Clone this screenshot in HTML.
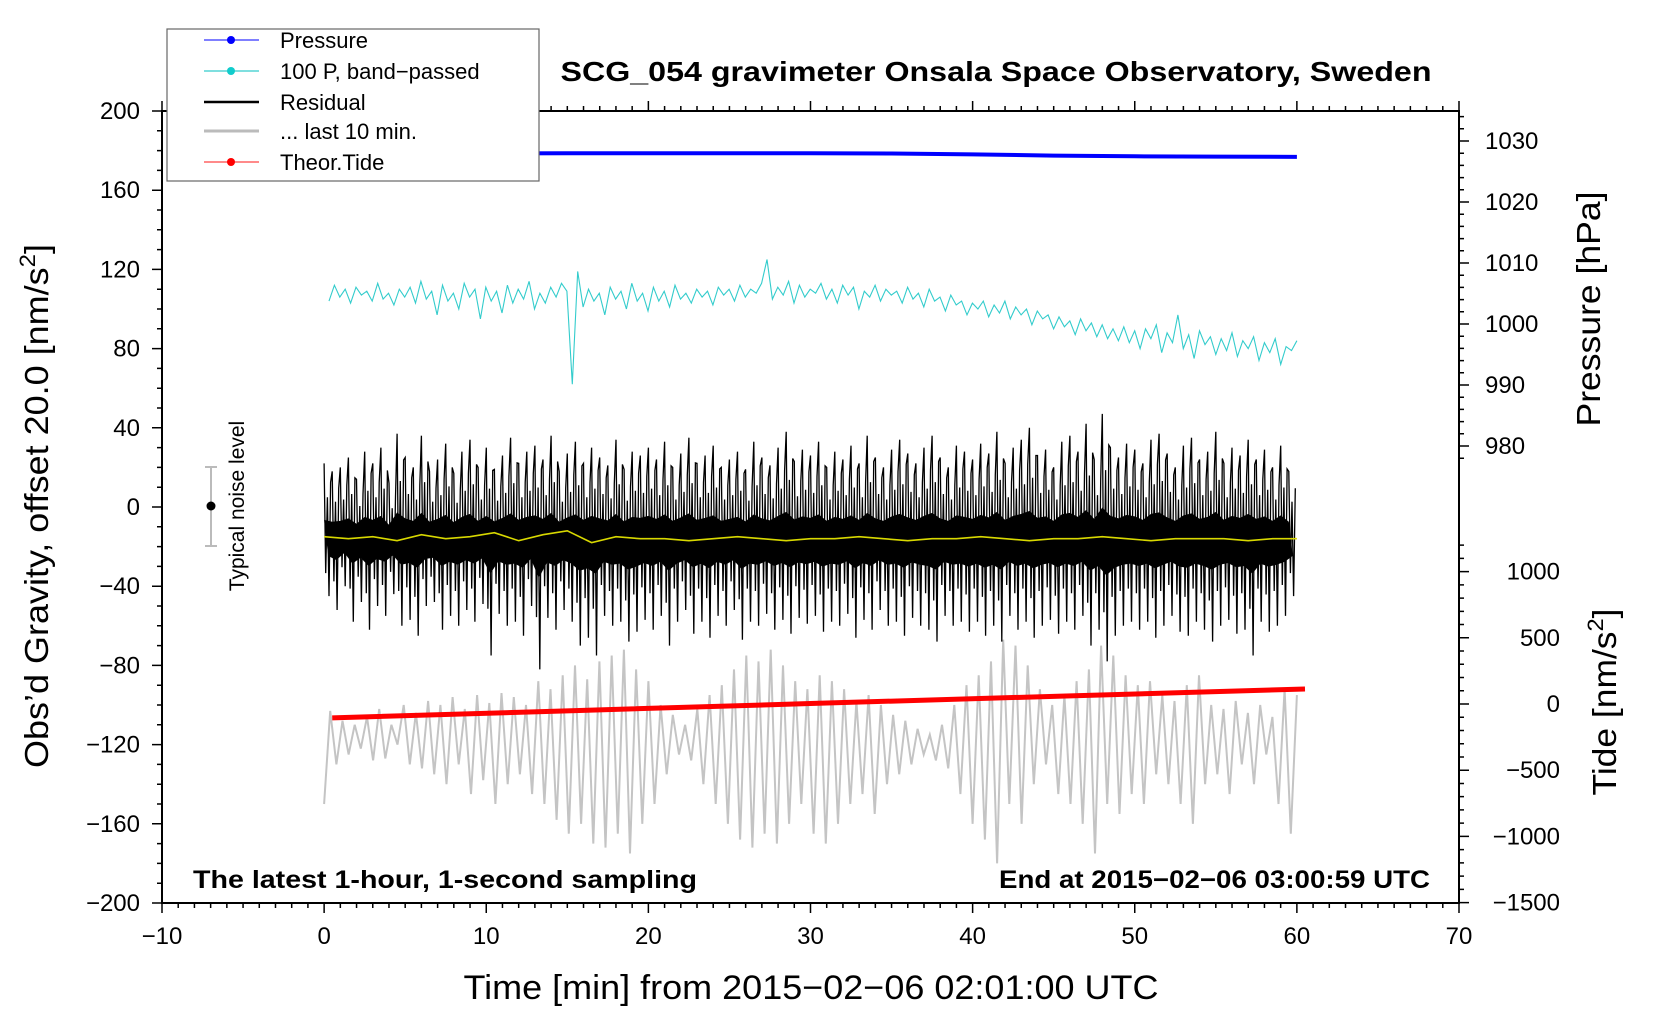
<!DOCTYPE html>
<html><head><meta charset="utf-8"><style>
html,body{margin:0;padding:0;background:#fff}
svg{display:block;font-family:"Liberation Sans",sans-serif}
</style></head><body>
<svg id="chart" width="1660" height="1020" viewBox="0 0 1660 1020">
<g id="series"></g>
<g id="axes"></g>
<text x="996" y="81" text-anchor="middle" font-size="28" font-weight="bold" textLength="871" lengthAdjust="spacingAndGlyphs">SCG_054 gravimeter Onsala Space Observatory, Sweden</text>
<text x="193" y="888" font-size="25" font-weight="bold" textLength="504" lengthAdjust="spacingAndGlyphs">The latest 1-hour, 1-second sampling</text>
<text x="1430" y="888" text-anchor="end" font-size="25" font-weight="bold" textLength="431" lengthAdjust="spacingAndGlyphs">End at 2015−02−06 03:00:59 UTC</text>
<text x="811" y="999" text-anchor="middle" font-size="34" textLength="695" lengthAdjust="spacingAndGlyphs">Time [min] from 2015−02−06 02:01:00 UTC</text>
<text transform="translate(48,506) rotate(-90)" text-anchor="middle" font-size="33" textLength="524" lengthAdjust="spacingAndGlyphs">Obs’d Gravity, offset 20.0 [nm/s<tspan font-size="22" dy="-13">2</tspan><tspan dy="13">]</tspan></text>
<text transform="translate(1600,309) rotate(-90)" text-anchor="middle" font-size="33" textLength="235" lengthAdjust="spacingAndGlyphs">Pressure [hPa]</text>
<text transform="translate(1616,702) rotate(-90)" text-anchor="middle" font-size="33" textLength="187" lengthAdjust="spacingAndGlyphs">Tide [nm/s<tspan font-size="22" dy="-13">2</tspan><tspan dy="13">]</tspan></text>
<g>
<line x1="211" y1="467" x2="211" y2="546" stroke="#bbb" stroke-width="2"/>
<line x1="205" y1="467" x2="217" y2="467" stroke="#bbb" stroke-width="2"/>
<line x1="205" y1="546" x2="217" y2="546" stroke="#bbb" stroke-width="2"/>
<circle cx="211" cy="506" r="4.5" fill="#000"/>
<text transform="translate(244,506) rotate(-90)" text-anchor="middle" font-size="21">Typical noise level</text>
</g>
<g>
<rect x="167" y="29" width="372" height="152" fill="#fff" stroke="#666" stroke-width="1.2"/>
<g><line x1="204" y1="40" x2="259" y2="40" stroke="#33f" stroke-width="1.2"/><circle cx="231" cy="40" r="4" fill="#00f"/><text x="280" y="48" font-size="22">Pressure</text></g>
<g><line x1="204" y1="71" x2="259" y2="71" stroke="#3cc" stroke-width="1.2"/><circle cx="231" cy="71" r="4" fill="#1cc"/><text x="280" y="79" font-size="22">100 P, band−passed</text></g>
<g><line x1="204" y1="102" x2="259" y2="102" stroke="#000" stroke-width="2.5"/><text x="280" y="110" font-size="22">Residual</text></g>
<g><line x1="204" y1="131" x2="259" y2="131" stroke="#bbb" stroke-width="3"/><text x="280" y="139" font-size="22">... last 10 min.</text></g>
<g><line x1="204" y1="162" x2="259" y2="162" stroke="#f44" stroke-width="1.2"/><circle cx="231" cy="162" r="4" fill="#f00"/><text x="280" y="170" font-size="22">Theor.Tide</text></g>
</g>
</svg>
<script>
// ---- data ----
const pressureTimes=[0,5,10,15,20,25,30,35,40,45,50,55,60];
const pressureValues=[1027.9,1027.9,1027.95,1028,1028,1028,1028,1027.95,1027.8,1027.6,1027.5,1027.45,1027.4];
const tideTimes=[0.5,15.5,30.5,45.5,60.5];
const tideValues=[-105,-50,5,60,113];
const bandpassed=[104,112,106,110,103,111,107,109,104,113,105,108,102,110,106,
111,103,114,105,109,97,112,104,108,100,113,106,110,95,111,
104,109,98,112,103,110,105,114,100,108,103,111,106,113,109,
62,119,101,110,104,108,97,111,105,109,100,113,104,108,99,
111,104,109,101,112,105,108,103,110,106,109,102,111,107,110,
104,112,106,110,108,113,125,105,111,107,114,103,112,106,110,
108,113,105,110,103,112,107,111,100,109,106,112,104,110,107,
109,103,111,105,108,101,110,104,106,99,107,102,104,97,103,
100,104,96,102,98,104,95,101,97,100,92,99,95,97,90,
96,91,94,87,95,89,93,86,92,85,90,84,91,83,89,
80,90,85,92,78,88,83,97,80,87,75,89,82,86,77,
85,79,88,76,84,80,86,74,83,78,85,72,81,79,84];
const residualMax=[22,18,20,25,14,28,22,30,12,37,25,20,36,18,24,32,17,28,34,20,
30,19,26,35,22,28,31,24,36,18,27,33,22,30,25,21,34,19,28,26,
30,24,33,20,27,35,22,26,31,20,24,28,19,33,25,21,30,38,23,29,
26,33,20,28,24,31,22,36,25,20,29,34,27,22,30,36,25,20,31,28,
24,32,27,38,22,30,34,40,26,29,20,33,36,28,42,24,47,30,25,32,
29,22,34,37,27,20,31,35,24,28,38,22,30,26,34,24,29,20,31,18];
const residualMin=[-45,-52,-40,-58,-48,-62,-50,-55,-44,-60,-57,-65,-50,-48,-62,-55,-60,-52,-58,-49,
-75,-54,-60,-58,-65,-50,-82,-56,-62,-52,-58,-70,-66,-75,-55,-60,-58,-68,-63,-57,
-62,-55,-70,-58,-52,-64,-58,-66,-55,-60,-52,-67,-58,-60,-54,-62,-57,-64,-56,-59,
-55,-63,-58,-60,-54,-66,-57,-62,-52,-60,-58,-65,-56,-60,-62,-68,-55,-60,-58,-63,
-58,-65,-60,-68,-55,-62,-58,-66,-60,-57,-64,-58,-62,-55,-70,-62,-78,-65,-60,-58,
-62,-58,-66,-60,-55,-63,-65,-58,-62,-68,-60,-57,-64,-62,-75,-58,-63,-60,-55,-45];
const smoothed=[-15,-16,-15,-17,-14,-16,-15,-13,-17,-14,-12,-18,-15,-16,-16,-17,-16,-15,-16,-17,-16,-16,-15,-16,-17,-16,-16,-15,-16,-17,-16,-16,-15,-16,-17,-16,-16,-16,-17,-16,-16];
const last10=[-150,-103,-130,-108,-125,-110,-122,-106,-128,-102,-127,-110,-120,-100,-130,-104,
-132,-98,-135,-100,-140,-96,-130,-102,-145,-95,-138,-99,-150,-94,-140,-96,
-135,-100,-145,-88,-150,-92,-158,-85,-165,-80,-160,-87,-170,-78,-172,-75,
-165,-72,-175,-82,-160,-88,-150,-100,-135,-105,-125,-110,-128,-102,-140,-95,
-150,-90,-160,-82,-168,-75,-172,-78,-165,-72,-170,-80,-160,-88,-150,-92,
-165,-85,-170,-88,-160,-92,-150,-98,-145,-95,-155,-100,-140,-105,-135,-108,
-130,-112,-125,-115,-128,-110,-132,-100,-145,-90,-160,-85,-168,-78,-180,-67,
-150,-70,-160,-80,-140,-92,-130,-100,-145,-95,-150,-88,-160,-82,-175,-70,
-150,-75,-155,-85,-145,-90,-150,-88,-135,-95,-140,-98,-150,-90,-160,-85,
-140,-100,-135,-102,-145,-98,-130,-104,-140,-100,-125,-106,-150,-92,-165,-95];
const xTicks=[-10,0,10,20,30,40,50,60,70];
const yTicks=[200,160,120,80,40,0,-40,-80,-120,-160,-200];
const pTicks=[1030,1020,1010,1000,990,980];
const tTicks=[1000,500,0,-500,-1000,-1500];

// ---- scales ----
const X0=162,X1=1459,Y0=111,Y1=903;
const sx=t=>X0+(t+10)/80*(X1-X0);
const sy=v=>Y1-(v+200)/400*(Y1-Y0);
const sp=p=>141+(1030-p)*6.1;
const st=v=>704-v*0.1324;
const NS='http://www.w3.org/2000/svg';
const series=document.getElementById('series'),axes=document.getElementById('axes');
function mk(tag,attrs,parent){const e=document.createElementNS(NS,tag);for(const k in attrs)e.setAttribute(k,attrs[k]);parent.appendChild(e);return e;}
function pl(pts){return pts.map(p=>p[0].toFixed(1)+','+p[1].toFixed(1)).join(' ');}

let g=last10.map((v,i)=>[sx(i*60/(last10.length-1)),sy(v)]);
let e=mk('polyline',{points:pl(g),fill:'none',stroke:'#c4c4c4','stroke-width':2},series);


let rp=[];const c=-16;
residualMax.forEach((mx,i)=>{const mn=residualMin[i];const t=i*0.5;
 rp.push([sx(t),sy(mx)]);rp.push([sx(t+0.1),sy(c+(mn-c)*0.6)]);rp.push([sx(t+0.2),sy(c+(mx-c)*0.55)]);
 rp.push([sx(t+0.3),sy(mn)]);rp.push([sx(t+0.4),sy(c+(mx-c)*0.75)]);});
e=mk('polyline',{points:pl(rp),fill:'none',stroke:'#000','stroke-width':1.3},series);


let band=[];residualMax.forEach((mx,i)=>band.push([sx(i*0.5),sy(c+(mx-c)*0.25)]));
for(let i=residualMin.length-1;i>=0;i--)band.push([sx(i*0.5+0.25),sy(c+(residualMin[i]-c)*0.3)]);
e=mk('polygon',{points:pl(band),fill:'#000'},series);


e=mk('polyline',{points:pl(smoothed.map((v,i)=>[sx(i*1.5),sy(v)])),fill:'none',stroke:'#d8d800','stroke-width':1.6},series);


e=mk('polyline',{points:pl(bandpassed.map((v,i)=>[sx(0.3+i*59.7/(bandpassed.length-1)),sy(v)])),fill:'none',stroke:'#33cccc','stroke-width':1.1},series);


e=mk('polyline',{points:pl(pressureValues.map((v,i)=>[sx(pressureTimes[i]),sp(v)])),fill:'none',stroke:'#0000ff','stroke-width':4},series);


e=mk('polyline',{points:pl(tideValues.map((v,i)=>[sx(tideTimes[i]),st(v)])),fill:'none',stroke:'#ff0000','stroke-width':5},series);



e=mk('rect',{x:X0,y:Y0,width:X1-X0,height:Y1-Y0,fill:'none',stroke:'#000','stroke-width':2},axes);


let tk='';
for(let t=-10;t<=70;t++){const L=t%10===0?10:5;tk+=`M${sx(t)},${Y1}v${L}M${sx(t)},${Y0}v${-L}`;}
for(let v=-200;v<=200;v+=10){const L=v%40===0?10:5;tk+=`M${X0},${sy(v)}h${-L}`;}
for(let p=978;p<=1034;p+=2){const L=p%10===0?10:5;tk+=`M${X1},${sp(p)}h${L}`;}
for(let v=-1500;v<=1200;v+=100){const L=v%500===0?10:5;tk+=`M${X1},${st(v)}h${L}`;}
e=mk('path',{d:tk,stroke:'#000','stroke-width':1.5,fill:'none'},axes);


xTicks.forEach(t=>{const el=mk('text',{x:sx(t),y:944,'text-anchor':'middle','font-size':24},axes);el.textContent=String(t).replace('-','−');

});
yTicks.forEach(v=>{const el=mk('text',{x:140,y:sy(v)+8,'text-anchor':'end','font-size':24},axes);el.textContent=String(v).replace('-','−');

});
pTicks.forEach(v=>{const el=mk('text',{x:1485,y:sp(v)+8,'font-size':24},axes);el.textContent=v;

});
tTicks.forEach(v=>{const el=mk('text',{x:1560,y:st(v)+8,'text-anchor':'end','font-size':24},axes);el.textContent=String(v).replace('-','−');

});
</script>
</body></html>
